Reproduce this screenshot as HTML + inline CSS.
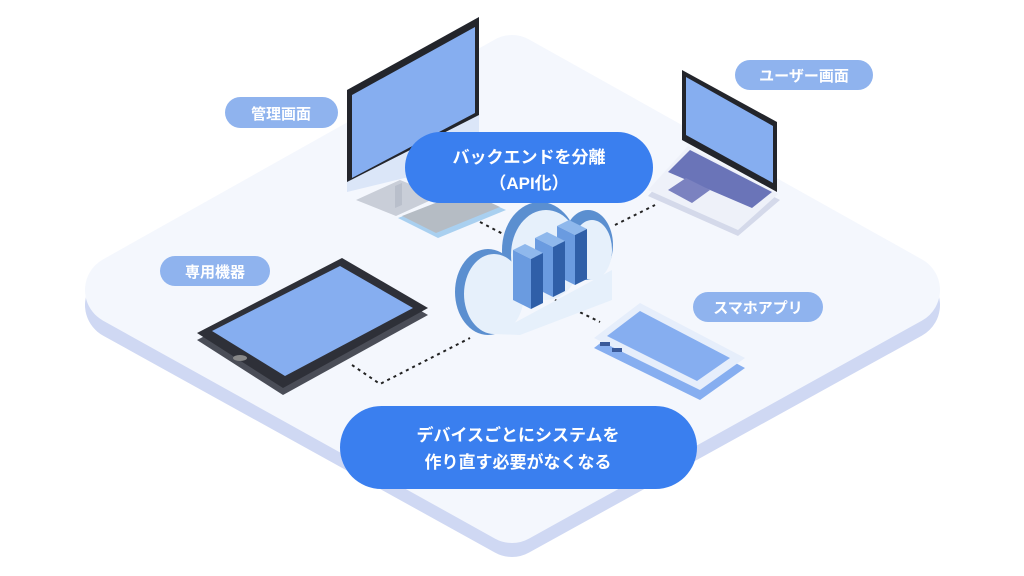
<!DOCTYPE html>
<html><head><meta charset="utf-8"><style>
html,body{margin:0;padding:0;background:#fff;}
svg{display:block}
text{font-family:"Liberation Sans","Noto Sans CJK JP",sans-serif;font-weight:bold;fill:#fff;text-anchor:middle}
</style></head><body>
<svg width="1024" height="576" viewBox="0 0 1024 576" xmlns="http://www.w3.org/2000/svg">
<polygon points="512,75 905,305 512,522 120,305" fill="#cfd8f3" stroke="#cfd8f3" stroke-width="70" stroke-linejoin="round"/>
<polygon points="512,70 905,290 512,508 120,290" fill="#f4f7fd" stroke="#f4f7fd" stroke-width="70" stroke-linejoin="round"/>

<g stroke="#222" stroke-width="2" stroke-dasharray="3,4" fill="none">
<line x1="480" y1="222" x2="505" y2="235"/>
<line x1="615" y1="225" x2="655" y2="205"/>
<line x1="555" y1="300" x2="600" y2="322"/>
<polyline points="352,365 380,384 470,338"/>
</g>

<!-- monitor -->
<polygon points="356,200 400,180 440,196 396,216" fill="#c9ced8"/>
<polygon points="395,186 402,183 402,205 395,208" fill="#b9bfcb"/>
<polygon points="347,90 479,17 479,160 347,192" fill="#dbe6f8"/>
<polygon points="347,90 479,17 479,115 347,182" fill="#23252b"/>
<polygon points="352,95 475,27 475,113 352,178" fill="#86aef0"/>
<polygon points="398,218 466,192 506,210 438,238" fill="#a9d0f0"/>
<polygon points="402,216 466,191 500,207 436,233" fill="#b5bcc4"/>

<!-- laptop -->
<polygon points="648,196 688,152 780,200 738,236" fill="#d4d9ea"/>
<polygon points="648,190 688,146 778,194 738,230" fill="#eef1f9"/>
<polygon points="668,172 690,150 772,192 752,208" fill="#6a74b8"/>
<polygon points="668,190 686,178 710,190 692,203" fill="#7b82c0"/>
<polygon points="682,70 777,122 777,192 682,140" fill="#23252b"/>
<polygon points="686,77 773,126 773,183 686,135" fill="#86aef0"/>

<!-- tablet -->
<polygon points="197,340 342,265 428,315 283,395" fill="#4a4d57"/>
<polygon points="197,333 342,258 428,308 283,388" fill="#2e3038"/>
<polygon points="212,331 340,266 413,308 285,376" fill="#86aef0"/>
<ellipse cx="240" cy="358" rx="7" ry="3" fill="#888"/>

<!-- phone -->
<polygon points="594,348 640,312 745,368 700,400" fill="#86aef0"/>
<polygon points="594,338 640,303 745,358 700,390" fill="#e6eefb"/>
<polygon points="607,336 640,311 730,358 697,381" fill="#86aef0"/>
<rect x="600" y="342" width="10" height="4" fill="#3a5a9a"/>
<rect x="612" y="348" width="10" height="4" fill="#3a5a9a"/>

<!-- cloud -->
<g fill="#5b8fd0">
<ellipse cx="488" cy="292" rx="33" ry="43"/>
<ellipse cx="540" cy="250" rx="38" ry="48"/>
<ellipse cx="588" cy="245" rx="25" ry="35"/>
</g>
<g fill="#e6f0fb">
<ellipse cx="494" cy="294" rx="30" ry="40"/>
<ellipse cx="546" cy="255" rx="35" ry="45"/>
<ellipse cx="592" cy="250" rx="20" ry="30"/>
<polygon points="494,334 612,270 612,300 520,335"/>
</g>
<!-- servers -->
<g id="col">
<polygon points="557,226 569,220 587,229 575,235" fill="#8fb8ec"/>
<polygon points="557,226 575,235 575,285 557,276" fill="#6a9be0"/>
<polygon points="575,235 587,229 587,279 575,285" fill="#2f5fa8"/>
<polygon points="535,238 547,232 565,241 553,247" fill="#8fb8ec"/>
<polygon points="535,238 553,247 553,297 535,288" fill="#6a9be0"/>
<polygon points="553,247 565,241 565,291 553,297" fill="#2f5fa8"/>
<polygon points="513,250 525,244 543,253 531,259" fill="#8fb8ec"/>
<polygon points="513,250 531,259 531,309 513,300" fill="#6a9be0"/>
<polygon points="531,259 543,253 543,303 531,309" fill="#2f5fa8"/>
</g>

<rect x="225" y="97" width="113" height="31" rx="15.5" fill="#8fb3ee"/>
<text x="281" y="119" font-size="15">管理画面</text>
<rect x="735" y="60" width="138" height="30" rx="15" fill="#8fb3ee"/>
<text x="804" y="81" font-size="15">ユーザー画面</text>
<rect x="160" y="256" width="110" height="30" rx="15" fill="#8fb3ee"/>
<text x="215" y="277" font-size="15">専用機器</text>
<rect x="693" y="292" width="130" height="30" rx="15" fill="#8fb3ee"/>
<text x="758" y="313" font-size="15">スマホアプリ</text>

<rect x="405" y="132" width="248" height="71" rx="35.5" fill="#3a7fef"/>
<text x="529" y="163" font-size="17">バックエンドを分離</text>
<text x="529" y="189" font-size="17">（API化）</text>
<rect x="340" y="406" width="357" height="83" rx="41.5" fill="#3a7fef"/>
<text x="518" y="441" font-size="17">デバイスごとにシステムを</text>
<text x="518" y="468" font-size="17">作り直す必要がなくなる</text>
</svg>
</body></html>
